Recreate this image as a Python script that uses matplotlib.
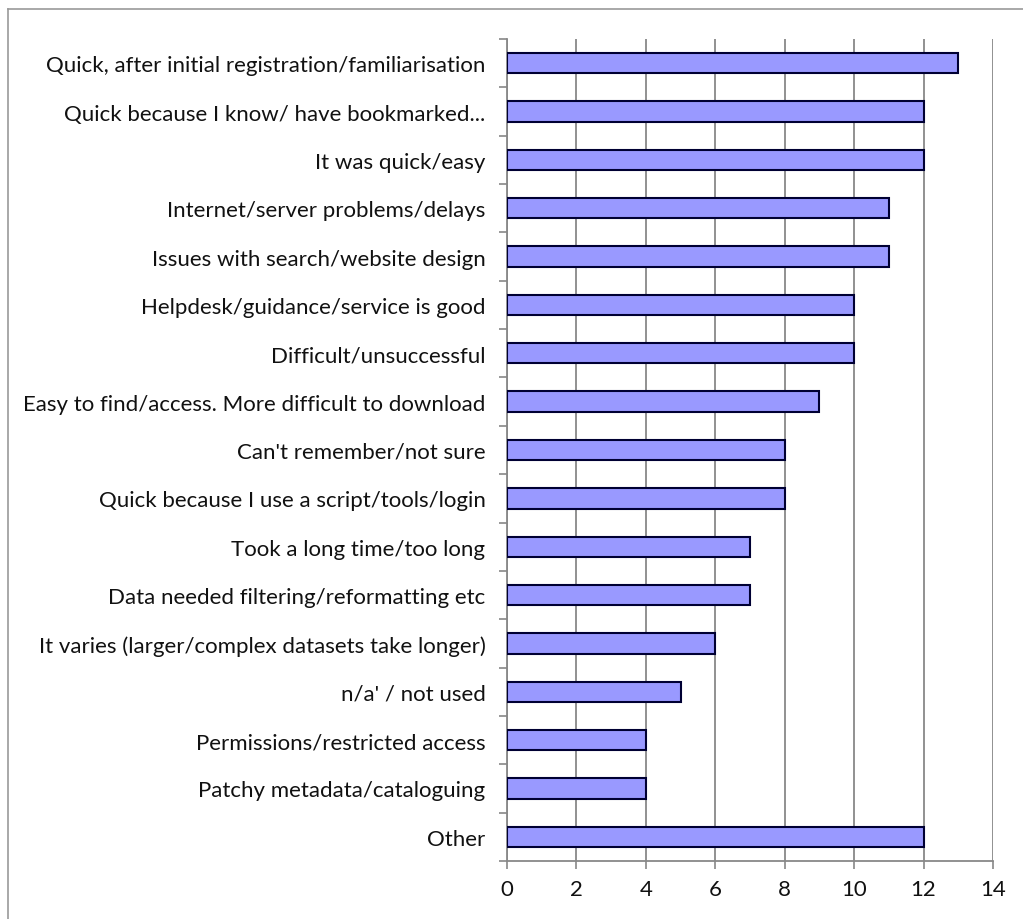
import matplotlib
matplotlib.use("Agg")
import matplotlib.pyplot as plt
from matplotlib.lines import Line2D
import numpy as np

categories = [
    "Quick, after initial registration/familiarisation",
    "Quick because I know/ have bookmarked...",
    "It was quick/easy",
    "Internet/server problems/delays",
    "Issues with search/website design",
    "Helpdesk/guidance/service is good",
    "Difficult/unsuccessful",
    "Easy to find/access. More difficult to download",
    "Can't remember/not sure",
    "Quick because I use a script/tools/login",
    "Took a long time/too long",
    "Data needed filtering/reformatting etc",
    "It varies (larger/complex datasets take longer)",
    "n/a' / not used",
    "Permissions/restricted access",
    "Patchy metadata/cataloguing",
    "Other",
]
counts = [13, 12, 12, 11, 11, 10, 10, 9, 8, 8, 7, 7, 6, 5, 4, 4, 12]
x_ticks = [0, 2, 4, 6, 8, 10, 12, 14]

W, H = 1023, 920
fig = plt.figure(figsize=(W / 100, H / 100), dpi=100)
plt.rcParams["font.family"] = ["Lato", "DejaVu Sans"]

ax = fig.add_axes([507 / W, 1 - 862 / H, (993 - 507) / W, (862 - 40) / H])

y = np.arange(len(categories))
ax.barh(y, counts, height=0.42, color="#9999ff", edgecolor="#000033",
        linewidth=1.5, zorder=3)

ax.set_ylim(len(categories) - 0.5, -0.5)
ax.set_xlim(0, 14)
ax.set_xticks(x_ticks)
ax.set_xticklabels([str(t) for t in x_ticks], fontsize=16, color="#111111")
ax.set_yticks(y)
ax.set_yticklabels(categories, fontsize=16, color="#111111")
ax.set_yticks(np.arange(len(categories) + 1) - 0.5, minor=True)

ax.tick_params(axis="y", which="major", length=0, pad=15.5)
ax.tick_params(axis="y", which="minor", length=6, width=1.2, color="#888888")
ax.tick_params(axis="x", which="major", length=6, width=1.2, color="#888888", pad=7)

ax.grid(axis="x", color="#888888", linewidth=1.3, zorder=0)
for side in ["top", "right"]:
    ax.spines[side].set_visible(False)
for side in ["left", "bottom"]:
    ax.spines[side].set_color("#888888")
    ax.spines[side].set_linewidth(1.3)

# outer chart border (left and top edges visible)
fig.add_artist(Line2D([8 / W, 8 / W], [0, 1 - 10 / H], color="#999999", linewidth=1.2))
fig.add_artist(Line2D([8 / W, 1], [1 - 10 / H, 1 - 10 / H], color="#999999", linewidth=1.2))

fig.savefig("out.png", dpi=100, facecolor="white")
